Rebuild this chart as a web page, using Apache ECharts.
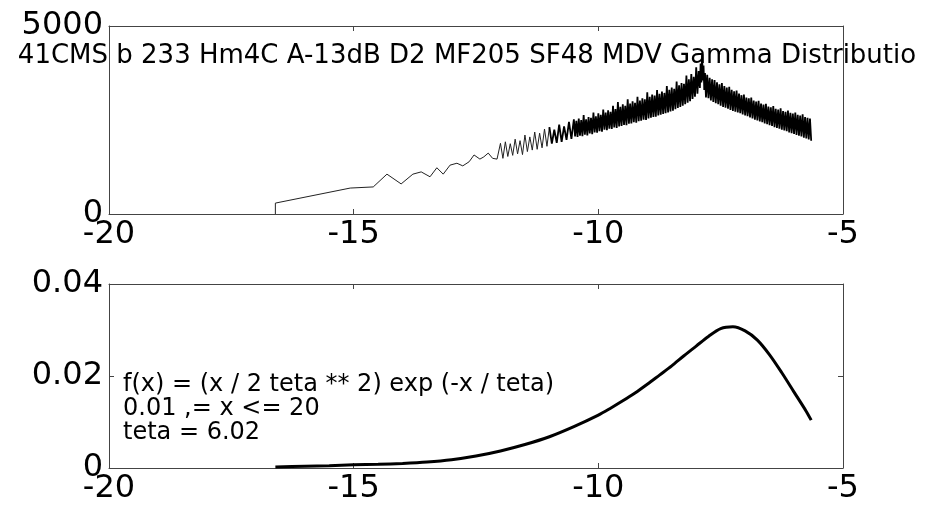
<!DOCTYPE html>
<html>
<head>
<meta charset="utf-8">
<script src="https://cdn.jsdelivr.net/npm/echarts@6/dist/echarts.min.js"></script>
<style>
  html, body { margin: 0; padding: 0; background: #fff; }
  #main { width: 934px; height: 505px; }
</style>
</head>
<body>
<div id="main"></div>
<script>
// x tick labels shared by both panels
var xTicks = [-20, -15, -10, -5];

// top panel, sparse low-frequency part, [x, value]
var spectrumLow = [
    [-16.6, 0], [-16.6, 290], [-15.07, 690], [-14.6, 720], [-14.32, 1060], [-14.03, 800],
    [-13.79, 1060], [-13.62, 1120], [-13.44, 990], [-13.3, 1230], [-13.17, 1060], [-13.03, 1300],
    [-12.89, 1350], [-12.77, 1280], [-12.64, 1390], [-12.54, 1570], [-12.42, 1460], [-12.34, 1520],
    [-12.25, 1620], [-12.16, 1480], [-12.07, 1460],
    [-12.00, 1880], [-11.95, 1480], [-11.90, 1920], [-11.85, 1530], [-11.80, 1870], [-11.75, 1560],
    [-11.70, 1990], [-11.65, 1600], [-11.60, 1950], [-11.55, 1580], [-11.50, 2100], [-11.45, 1660],
    [-11.40, 2050], [-11.35, 1700], [-11.30, 2180], [-11.25, 1720], [-11.20, 2150], [-11.15, 1760],
    [-11.10, 2260], [-11.05, 1800], [-11.00, 2310]
];

// top panel, dense part (solid band in the picture), [x, value]
var spectrumBand = [
    [-11.00, 2310], [-10.95, 1870], [-10.90, 2240], [-10.85, 1890],
    [-10.80, 2380], [-10.75, 1920], [-10.70, 2330], [-10.65, 1970], [-10.60, 2450], [-10.55, 2000],
    [-10.50, 2520],
    [-10.475, 2060], [-10.45, 2480], [-10.425, 2050], [-10.40, 2540], [-10.375, 2080], [-10.35, 2500],
    [-10.325, 2070], [-10.30, 2630], [-10.275, 2110], [-10.25, 2520], [-10.225, 2090], [-10.20, 2580],
    [-10.175, 2140], [-10.15, 2560], [-10.125, 2120], [-10.10, 2700], [-10.075, 2170], [-10.05, 2600],
    [-10.025, 2160], [-10.00, 2680], [-9.975, 2200], [-9.95, 2640], [-9.925, 2190], [-9.90, 2780],
    [-9.875, 2240], [-9.85, 2700], [-9.825, 2230], [-9.80, 2760], [-9.775, 2270], [-9.75, 2720],
    [-9.725, 2260], [-9.70, 2880], [-9.675, 2300], [-9.65, 2790], [-9.625, 2290], [-9.60, 2980],
    [-9.575, 2330], [-9.55, 2850], [-9.525, 2340], [-9.50, 2920], [-9.475, 2370], [-9.45, 2880],
    [-9.425, 2360], [-9.40, 3050], [-9.375, 2400], [-9.35, 2940], [-9.325, 2410], [-9.30, 3000],
    [-9.275, 2440], [-9.25, 2960], [-9.225, 2430], [-9.20, 3120], [-9.175, 2470], [-9.15, 3020],
    [-9.125, 2480], [-9.10, 3080], [-9.075, 2510], [-9.05, 3050], [-9.025, 2500], [-9.00, 3240],
    [-8.975, 2540], [-8.95, 3120], [-8.925, 2560], [-8.90, 3180], [-8.875, 2580], [-8.85, 3150],
    [-8.825, 2590], [-8.80, 3300], [-8.775, 2620], [-8.75, 3200], [-8.725, 2640], [-8.70, 3260],
    [-8.675, 2660], [-8.65, 3220], [-8.625, 2680], [-8.60, 3400], [-8.575, 2700], [-8.55, 3300],
    [-8.525, 2730], [-8.50, 3360], [-8.475, 2750], [-8.45, 3330], [-8.425, 2790], [-8.40, 3520],
    [-8.375, 2820], [-8.35, 3420], [-8.325, 2850], [-8.30, 3480], [-8.275, 2880], [-8.25, 3460],
    [-8.225, 2920], [-8.20, 3680], [-8.175, 2960], [-8.15, 3580], [-8.125, 3000], [-8.10, 3720],
    [-8.075, 3060], [-8.05, 3650], [-8.025, 3120], [-8.00, 3900], [-7.975, 3200], [-7.95, 3800],
    [-7.925, 3350], [-7.91, 4000], [-7.895, 3500], [-7.88, 4250], [-7.865, 3550], [-7.85, 3950],
    [-7.835, 3300], [-7.82, 3750], [-7.80, 3100], [-7.775, 3700], [-7.75, 3080], [-7.725, 3620],
    [-7.70, 3020], [-7.675, 3580], [-7.65, 2980], [-7.625, 3560], [-7.60, 2950], [-7.575, 3500],
    [-7.55, 2920], [-7.525, 3450], [-7.50, 2880], [-7.475, 3480], [-7.45, 2850], [-7.425, 3400],
    [-7.40, 2830], [-7.375, 3360], [-7.35, 2800], [-7.325, 3380], [-7.30, 2770], [-7.275, 3300],
    [-7.25, 2740], [-7.225, 3260], [-7.20, 2720], [-7.175, 3280], [-7.15, 2700], [-7.125, 3200],
    [-7.10, 2680], [-7.075, 3160], [-7.05, 2650], [-7.025, 3180], [-7.00, 2620], [-6.975, 3100],
    [-6.95, 2600], [-6.925, 3080], [-6.90, 2570], [-6.875, 3100], [-6.85, 2540], [-6.825, 3020],
    [-6.80, 2510], [-6.775, 2990], [-6.75, 2490], [-6.725, 3010], [-6.70, 2460], [-6.675, 2940],
    [-6.65, 2440], [-6.625, 2910], [-6.60, 2410], [-6.575, 2930], [-6.55, 2390], [-6.525, 2860],
    [-6.50, 2360], [-6.475, 2840], [-6.45, 2340], [-6.425, 2870], [-6.40, 2310], [-6.375, 2800],
    [-6.35, 2290], [-6.325, 2780], [-6.30, 2270], [-6.275, 2810], [-6.25, 2240], [-6.225, 2740],
    [-6.20, 2220], [-6.175, 2720], [-6.15, 2200], [-6.125, 2750], [-6.10, 2170], [-6.075, 2690],
    [-6.05, 2150], [-6.025, 2670], [-6.00, 2130], [-5.975, 2700], [-5.95, 2100], [-5.925, 2640],
    [-5.90, 2080], [-5.875, 2620], [-5.85, 2060], [-5.825, 2650], [-5.80, 2030], [-5.775, 2580],
    [-5.75, 2010], [-5.725, 2560], [-5.70, 1980], [-5.675, 2540], [-5.65, 1950]
];

// bottom panel: fitted gamma density, [x, f(x)]
var gammaFit = [
    [-16.6, 0.0002], [-16.0, 0.0004], [-15.5, 0.0005], [-15.0, 0.0007], [-14.5, 0.0008],
    [-14.0, 0.0010], [-13.5, 0.0013], [-13.0, 0.0018], [-12.5, 0.0026], [-12.0, 0.0037],
    [-11.5, 0.0051], [-11.0, 0.0068], [-10.5, 0.0090], [-10.0, 0.0115], [-9.75, 0.0130],
    [-9.5, 0.0146], [-9.25, 0.0163], [-9.0, 0.0182], [-8.75, 0.0202], [-8.5, 0.0222],
    [-8.25, 0.0244], [-8.0, 0.0265], [-7.75, 0.0286], [-7.5, 0.0303], [-7.25, 0.0307],
    [-7.0, 0.0298], [-6.75, 0.0278], [-6.5, 0.0246], [-6.25, 0.0207], [-6.0, 0.0165],
    [-5.75, 0.0123], [-5.65, 0.0104]
];

var titleText = '41CMS b 233 Hm4C A-13dB D2 MF205 SF48 MDV Gamma Distributio';
var noteLines = [
    'f(x) = (x / 2 teta ** 2) exp (-x / teta)',
    '0.01 ,= x <= 20',
    'teta = 6.02'
];

var myChart = echarts.init(document.getElementById('main'));

var font = 'DejaVu Sans';
var lineCol = '#444';

function xAx(grid, pos, labels) {
    return {
        gridIndex: grid,
        type: 'value',
        position: pos,
        min: xTicks[0],
        max: xTicks[xTicks.length - 1],
        interval: 5,
        axisLine: { show: true, onZero: false, lineStyle: { color: lineCol, width: 1 } },
        axisTick: { show: true, inside: true, length: 5, lineStyle: { color: lineCol } },
        axisLabel: {
            show: labels,
            margin: 5,
            fontFamily: font,
            fontSize: 32,
            color: '#000'
        },
        splitLine: { show: false }
    };
}

function yAx(grid, pos, labels, max, step) {
    return {
        gridIndex: grid,
        type: 'value',
        position: pos,
        min: 0,
        max: max,
        interval: step,
        axisLine: { show: true, onZero: false, lineStyle: { color: lineCol, width: 1 } },
        axisTick: { show: true, inside: true, length: 5, lineStyle: { color: lineCol } },
        axisLabel: {
            show: labels,
            margin: 6,
            fontFamily: font,
            fontSize: 32,
            color: '#000',
            formatter: function (v) { return String(v); }
        },
        splitLine: { show: false }
    };
}

var option = {
    animation: false,
    backgroundColor: '#fff',
    title: [
        {
            text: titleText,
            left: 'center',
            top: 38,
            textStyle: { fontFamily: font, fontSize: 26, fontWeight: 'normal', color: '#000' }
        },
        {
            text: noteLines.join('\n'),
            left: 118,
            top: 368,
            textStyle: { fontFamily: font, fontSize: 24, lineHeight: 24, fontWeight: 'normal', color: '#000' }
        }
    ],
    grid: [
        { left: 109, right: 91, top: 26, height: 188 },
        { left: 109, right: 91, top: 284, height: 188 }
    ],
    xAxis: [
        xAx(0, 'bottom', true),
        xAx(1, 'bottom', true),
        xAx(0, 'top', false),
        xAx(1, 'top', false)
    ],
    yAxis: [
        yAx(0, 'left', true, 5000, 5000),
        yAx(1, 'left', true, 0.04, 0.02),
        yAx(0, 'right', false, 5000, 5000),
        yAx(1, 'right', false, 0.04, 0.02)
    ],
    series: [
        {
            type: 'line',
            xAxisIndex: 0,
            yAxisIndex: 0,
            data: spectrumLow,
            showSymbol: false,
            lineStyle: { color: '#222', width: 1 }
        },
        {
            type: 'line',
            xAxisIndex: 0,
            yAxisIndex: 0,
            data: spectrumBand,
            showSymbol: false,
            lineStyle: { color: '#000', width: 1.8 }
        },
        {
            type: 'line',
            xAxisIndex: 1,
            yAxisIndex: 1,
            data: gammaFit,
            smooth: 0.3,
            showSymbol: false,
            lineStyle: { color: '#000', width: 3 }
        }
    ]
};

myChart.setOption(option);
</script>
</body>
</html>
